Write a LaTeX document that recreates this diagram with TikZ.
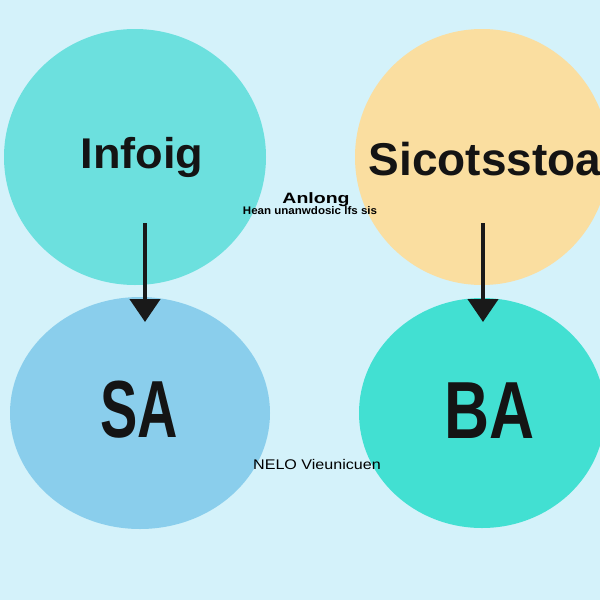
\documentclass[tikz,border=0pt]{standalone}
\usepackage{fontspec}
\setmainfont{Liberation Sans}
\usetikzlibrary{arrows.meta}
\definecolor{bgc}{RGB}{212,242,250}
\definecolor{cTL}{RGB}{108,224,222}
\definecolor{cTR}{RGB}{250,222,160}
\definecolor{cBL}{RGB}{138,206,236}
\definecolor{cBR}{RGB}{66,224,210}
\tikzset{
  bigtxt/.style={font=\fontsize{43}{43}\selectfont\bfseries, text=black!92, anchor=base, inner sep=0pt},
  hugetxt/.style={font=\fontsize{81}{81}\selectfont\bfseries, text=black!92, anchor=base, inner sep=0pt},
  smalltxt/.style={font=\fontsize{11}{11}\selectfont\bfseries, text=black, anchor=base, inner sep=0pt},
  flow/.style={line width=4.5pt, draw=black!90, -{Triangle[length=23pt,width=30pt]}}
}
\begin{document}
\begin{tikzpicture}[x=1pt,y=-1pt]
\useasboundingbox (0,0) rectangle (600,600);
\fill[bgc] (0,0) rectangle (600,600);
\begin{scope}
\clip (0,0) rectangle (600,600);
\fill[cTL] (135,157) ellipse [x radius=131, y radius=128];
\fill[cTR] (482,157) ellipse [x radius=127, y radius=128];
\fill[cBL] (140,413) ellipse [x radius=130, y radius=116];
\fill[cBR] (482,413) ellipse [x radius=123, y radius=115];
\end{scope}
\node[bigtxt, xscale=1.05] (infoig) at (142,168) {Infoig};
\node[bigtxt, font=\fontsize{46}{46}\selectfont\bfseries] (sico) at (485,175) {Sicotsstoa};
\node[hugetxt, xscale=0.69] (sa) at (139,437) {SA};
\node[hugetxt, xscale=0.77] (ba) at (490,438) {BA};
\node[smalltxt, font=\fontsize{15}{15}\selectfont\bfseries, xscale=1.3] (anlong) at (316,203) {Anlong};
\node[smalltxt, xscale=1.05] (hean) at (310,214) {Hean unanwdosic lfs sis};
\node[smalltxt, font=\fontsize{14}{14}\selectfont, xscale=1.15] (nelo) at (317,469) {NELO Vieunicuen};
\coordinate (a1s) at (145,223);
\coordinate (a1e) at (145,322);
\coordinate (a2s) at (483,223);
\coordinate (a2e) at (483,322);
\draw[flow] (a1s) -- (a1e);
\draw[flow] (a2s) -- (a2e);
\end{tikzpicture}
\end{document}
